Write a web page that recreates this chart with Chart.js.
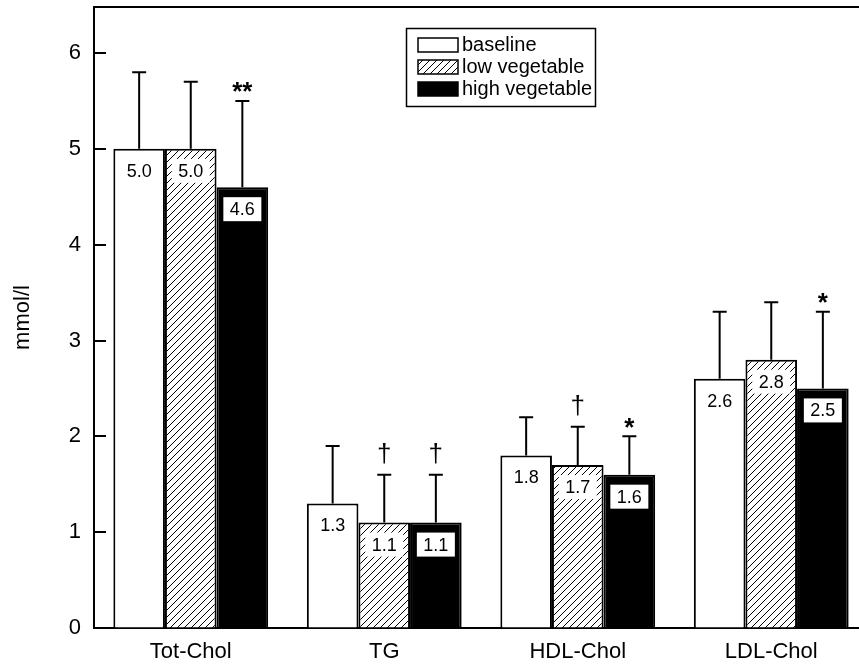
<!DOCTYPE html>
<html>
<head>
<meta charset="utf-8">
<script src="https://cdn.jsdelivr.net/npm/chart.js@4.4.1/dist/chart.umd.min.js"></script>
<style>
  html, body { margin: 0; padding: 0; background: #fff; overflow: hidden; }
  canvas { display: block; }
</style>
</head>
<body>
<canvas id="myChart" width="870" height="666"></canvas>
<script>
// data
var categories = ['Tot-Chol', 'TG', 'HDL-Chol', 'LDL-Chol'];
var seriesNames = ['baseline', 'low vegetable', 'high vegetable'];
var baseline = [5.0, 1.3, 1.8, 2.6];
var lowVeg = [5.0, 1.1, 1.7, 2.8];
var highVeg = [4.6, 1.1, 1.6, 2.5];
// upper error bar (SD)
var baselineSd = [0.8, 0.6, 0.4, 0.7];
var lowVegSd = [0.7, 0.5, 0.4, 0.6];
var highVegSd = [0.9, 0.5, 0.4, 0.8];
// significance marks
var baselineSig = ['', '', '', ''];
var lowVegSig = ['', '\u2020', '\u2020', ''];
var highVegSig = ['**', '\u2020', '*', '*'];
var yTicks = [0, 1, 2, 3, 4, 5, 6];

var FONT = '"Liberation Sans", Arial, Helvetica, sans-serif';

// hatch pattern for the low vegetable bars
function makeHatch() {
    var s = 7;
    var c = document.createElement('canvas');
    c.width = s; c.height = s;
    var g = c.getContext('2d');
    g.fillStyle = '#fff';
    g.fillRect(0, 0, s, s);
    g.strokeStyle = '#000';
    g.lineWidth = 1;
    g.beginPath();
    g.moveTo(0, s); g.lineTo(s, 0);
    g.moveTo(-1, 1); g.lineTo(1, -1);
    g.moveTo(s - 1, s + 1); g.lineTo(s + 1, s - 1);
    g.stroke();
    return g.createPattern(c, 'repeat');
}

var errs = [baselineSd, lowVegSd, highVegSd];
var sigs = [baselineSig, lowVegSig, highVegSig];

var extras = {
    id: 'extras',
    afterDatasetsDraw: function (chart) {
        var ctx = chart.ctx;
        var y = chart.scales.y;
        var area = chart.chartArea;
        ctx.save();

        // top frame line
        ctx.strokeStyle = '#000';
        ctx.lineWidth = 2;
        ctx.beginPath();
        ctx.moveTo(area.left - 1, area.top);
        ctx.lineTo(chart.width, area.top);
        ctx.stroke();

        // inward tick marks
        yTicks.forEach(function (t) {
            var py = Math.round(y.getPixelForValue(t));
            ctx.beginPath();
            ctx.moveTo(area.left, py);
            ctx.lineTo(area.left + 12, py);
            ctx.stroke();
        });

        chart.data.datasets.forEach(function (ds, di) {
            var meta = chart.getDatasetMeta(di);
            meta.data.forEach(function (bar, i) {
                var v = ds.data[i];
                var top = bar.y;
                var errY = y.getPixelForValue(v + errs[di][i]);

                // error bar
                ctx.strokeStyle = '#000';
                ctx.lineWidth = 2;
                ctx.beginPath();
                ctx.moveTo(bar.x, top);
                ctx.lineTo(bar.x, errY);
                ctx.moveTo(bar.x - 7, errY);
                ctx.lineTo(bar.x + 7, errY);
                ctx.stroke();

                // value label
                var txt = v.toFixed(1);
                ctx.fillStyle = '#fff';
                ctx.fillRect(bar.x - 19, top + 10, 38, 24);
                ctx.fillStyle = '#000';
                ctx.font = '18px ' + FONT;
                ctx.textAlign = 'center';
                ctx.textBaseline = 'middle';
                ctx.fillText(txt, bar.x, top + 23);

                // significance
                var s = sigs[di][i];
                if (s) {
                    if (s === '\u2020') {
                        ctx.font = '26px ' + FONT;
                        ctx.fillText(s, bar.x, errY - 20);
                    } else {
                        ctx.font = 'bold 26px ' + FONT;
                        ctx.fillText(s, bar.x, errY - 8);
                    }
                }
            });
        });
        ctx.restore();
    },
    afterDraw: function (chart) {
        var ctx = chart.ctx;
        ctx.save();
        // legend box
        ctx.strokeStyle = '#000';
        ctx.lineWidth = 1.5;
        ctx.strokeRect(406.5, 28.5, 189, 78);
        ctx.font = '20px ' + FONT;
        ctx.textAlign = 'left';
        ctx.textBaseline = 'middle';
        chart.data.datasets.forEach(function (ds, di) {
            var cy = 45 + di * 22;
            ctx.fillStyle = ds.backgroundColor;
            ctx.fillRect(418, cy - 7, 40, 14);
            ctx.lineWidth = 1.5;
            ctx.strokeRect(418, cy - 7, 40, 14);
            ctx.fillStyle = '#000';
            ctx.fillText(ds.label, 462, cy);
        });
        ctx.restore();
    }
};

var ctx = document.getElementById('myChart').getContext('2d');

var myChart = new Chart(ctx, {
    type: 'bar',
    data: {
        labels: categories,
        datasets: [{
            label: seriesNames[0],
            data: baseline,
            backgroundColor: '#fff',
            borderColor: '#000',
            borderWidth: 2
        }, {
            label: seriesNames[1],
            data: lowVeg,
            backgroundColor: makeHatch(),
            borderColor: '#000',
            borderWidth: 2
        }, {
            label: seriesNames[2],
            data: highVeg,
            backgroundColor: '#000',
            borderColor: '#000',
            borderWidth: 2
        }]
    },
    options: {
        responsive: false,
        animation: false,
        devicePixelRatio: 1,
        layout: { padding: { top: 7, right: 2, left: 0, bottom: 0 } },
        datasets: { bar: { categoryPercentage: 0.8, barPercentage: 1.0 } },
        plugins: {
            legend: { display: false },
            tooltip: { enabled: false }
        },
        scales: {
            x: {
                grid: { display: true, drawOnChartArea: false, drawTicks: false },
                border: { display: true, color: '#000', width: 2 },
                ticks: { color: '#000', padding: 11, font: { family: FONT, size: 22 } },
                afterFit: function (s) {
                    s.height = 38;
                    s.paddingLeft = 0; s.paddingRight = 0;
                }
            },
            y: {
                min: 0,
                max: 6.48,
                grid: { display: true, drawOnChartArea: false, drawTicks: false },
                border: { display: true, color: '#000', width: 2 },
                afterBuildTicks: function (s) {
                    s.ticks = yTicks.map(function (v) { return { value: v }; });
                },
                ticks: {
                    color: '#000',
                    padding: 13,
                    font: { family: FONT, size: 22 }
                },
                title: {
                    display: true,
                    text: 'mmol/l',
                    color: '#000',
                    padding: { top: 10, bottom: 0 },
                    font: { family: FONT, size: 22 }
                },
                afterFit: function (s) {
                    s.width = 94;
                    s.paddingTop = 0; s.paddingBottom = 0;
                }
            }
        }
    },
    plugins: [extras]
});
</script>
</body>
</html>
